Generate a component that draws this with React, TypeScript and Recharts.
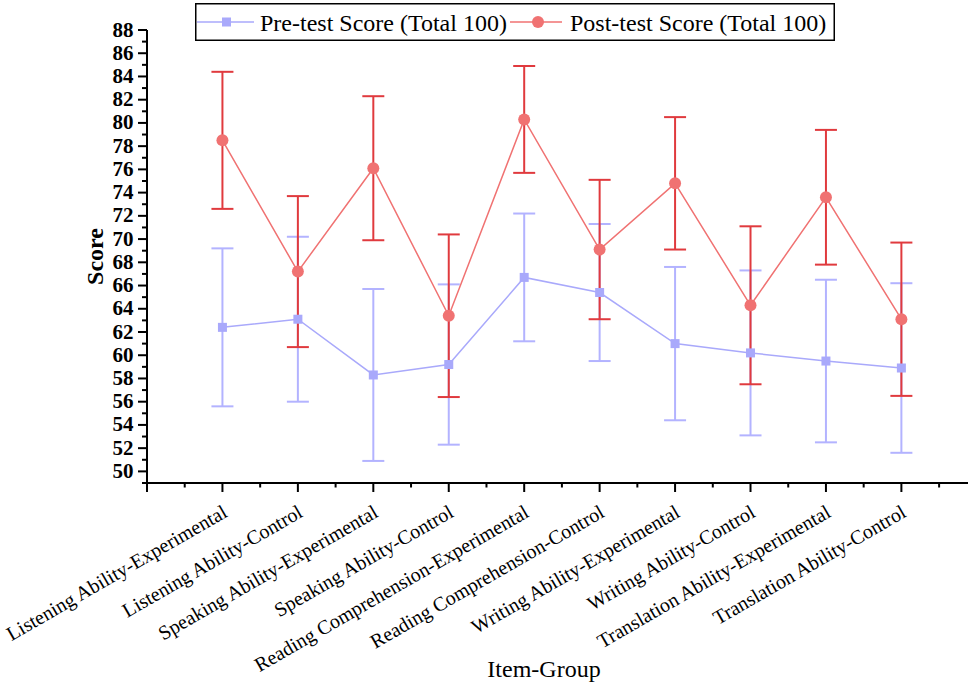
import React from 'react';
import { LineChart, Line, XAxis, YAxis, ErrorBar, Legend } from 'recharts';

const categories = [
  'Listening Ability-Experimental',
  'Listening Ability-Control',
  'Speaking Ability-Experimental',
  'Speaking Ability-Control',
  'Reading Comprehension-Experimental',
  'Reading Comprehension-Control',
  'Writing Ability-Experimental',
  'Writing Ability-Control',
  'Translation Ability-Experimental',
  'Translation Ability-Control',
];
const categoryPositions = [1, 2, 3, 4, 5, 6, 7, 8, 9, 10];
const preScores = [62.4, 63.1, 58.3, 59.2, 66.7, 65.4, 61.0, 60.2, 59.5, 58.9];
const preErrors = [6.8, 7.1, 7.4, 6.9, 5.5, 5.9, 6.6, 7.1, 7.0, 7.3];
const postScores = [78.5, 67.2, 76.1, 63.4, 80.3, 69.1, 74.8, 64.3, 73.6, 63.1];
const postErrors = [5.9, 6.5, 6.2, 7.0, 4.6, 6.0, 5.7, 6.8, 5.8, 6.6];

const yMajorTicks = [50, 52, 54, 56, 58, 60, 62, 64, 66, 68, 70, 72, 74, 76, 78, 80, 82, 84, 86, 88];
const yMinorTicks = [49, 51, 53, 55, 57, 59, 61, 63, 65, 67, 69, 71, 73, 75, 77, 79, 81, 83, 85, 87];
const xMajorTicks = [0, 1, 2, 3, 4, 5, 6, 7, 8, 9, 10];
const xMinorTicks = [0.5, 1.5, 2.5, 3.5, 4.5, 5.5, 6.5, 7.5, 8.5, 9.5, 10.5];

const preName = 'Pre-test Score (Total 100)';
const postName = 'Post-test Score (Total 100)';

const data = categories.map((name, i) => ({
  x: categoryPositions[i],
  name,
  pre: preScores[i],
  preErr: preErrors[i],
  post: postScores[i],
  postErr: postErrors[i],
}));

const yTicks = [...yMinorTicks, ...yMajorTicks].sort((a, b) => a - b);
const xTicks = [...xMajorTicks, ...xMinorTicks].sort((a, b) => a - b);

const SERIF = '"Liberation Serif", "Times New Roman", serif';
const PRE_COLOR = '#a9a9fb';
const PRE_ERR = '#b3b3ff';
const POST_COLOR = '#f07272';
const POST_ERR = '#e03a3e';

const XTick = (props: any) => {
  const { x, y, payload } = props;
  const v = payload.value;
  const major = xMajorTicks.includes(v);
  const idx = categoryPositions.indexOf(v);
  const tx = x + 6;
  const ty = y + 33;
  return (
    <g>
      <line x1={x} x2={x} y1={y} y2={y + (major ? 9 : 4.5)} stroke="#000" strokeWidth={2} />
      {idx >= 0 && (
        <text
          x={tx}
          y={ty}
          textAnchor="end"
          transform={`rotate(-30, ${tx}, ${ty})`}
          fontFamily={SERIF}
          fontSize={20}
          fill="#000"
        >
          {categories[idx]}
        </text>
      )}
    </g>
  );
};

const YTick = (props: any) => {
  const { x, y, payload } = props;
  const v = payload.value;
  const major = yMajorTicks.includes(v);
  return (
    <g>
      <line x1={x} x2={x - (major ? 9 : 5)} y1={y} y2={y} stroke="#000" strokeWidth={2} />
      {major && (
        <text x={x - 13.5} y={y + 6.5} textAnchor="end" fontFamily={SERIF} fontSize={21} fontWeight="bold" fill="#000">
          {v}
        </text>
      )}
    </g>
  );
};

const SquareDot = (props: any) => {
  const { cx, cy } = props;
  if (cx == null || cy == null) return null;
  return <rect x={cx - 4.5} y={cy - 4.5} width={9} height={9} fill={PRE_COLOR} />;
};

const CircleDot = (props: any) => {
  const { cx, cy } = props;
  if (cx == null || cy == null) return null;
  return <circle cx={cx} cy={cy} r={6} fill={POST_COLOR} />;
};

const LegendBox = () => (
  <svg width={640} height={38} style={{ display: 'block' }}>
    <rect x={0.75} y={0.75} width={638.5} height={36.5} fill="#fff" stroke="#000" strokeWidth={1.5} />
    <line x1={2} x2={59} y1={19} y2={19} stroke={PRE_COLOR} strokeWidth={1.5} />
    <rect x={27} y={14.5} width={9} height={9} fill={PRE_COLOR} />
    <text x={65} y={28} fontFamily={SERIF} fontSize={24} fill="#000">{preName}</text>
    <line x1={315} x2={367} y1={19} y2={19} stroke={POST_COLOR} strokeWidth={1.5} />
    <circle cx={343} cy={19} r={6} fill={POST_COLOR} />
    <text x={375} y={28} fontFamily={SERIF} fontSize={24} fill="#000">{postName}</text>
  </svg>
);

const YLabel = (props: any) => {
  const vb = props.viewBox;
  const cy = vb.y + vb.height / 2;
  const tx = 103;
  return (
    <text
      x={tx}
      y={cy}
      textAnchor="middle"
      transform={`rotate(-90, ${tx}, ${cy})`}
      fontFamily={SERIF}
      fontSize={24}
      fontWeight="bold"
      fill="#000"
    >
      Score
    </text>
  );
};

const XLabel = () => (
  <text x={544} y={677} textAnchor="middle" fontFamily={SERIF} fontSize={24} fill="#000">
    Item-Group
  </text>
);

export default function App() {
  return (
    <div style={{ position: 'absolute', left: 0, top: 0, width: 968, height: 687, background: '#fff' }}>
      <LineChart width={968} height={687} data={data} margin={{ top: 30, right: 0, bottom: 0, left: 0 }}>
        <XAxis
          type="number"
          dataKey="x"
          domain={[0, 10.883]}
          allowDataOverflow
          ticks={xTicks}
          interval={0}
          tickSize={0}
          tickMargin={0}
          tickLine={false}
          tick={<XTick />}
          height={204}
          axisLine={{ stroke: '#000', strokeWidth: 2 }}
          label={<XLabel />}
        />
        <YAxis
          type="number"
          domain={[49, 88]}
          allowDataOverflow
          ticks={yTicks}
          interval={0}
          tickSize={0}
          tickMargin={0}
          tickLine={false}
          tick={<YTick />}
          width={147}
          axisLine={{ stroke: '#000', strokeWidth: 2 }}
          label={<YLabel />}
        />
        <Legend
          layout="horizontal"
          verticalAlign="middle"
          align="center"
          wrapperStyle={{ position: 'absolute', left: 195, top: 3, width: 640, height: 38 }}
          content={() => <LegendBox />}
        />
        <Line
          type="linear"
          dataKey="pre"
          name={preName}
          stroke={PRE_COLOR}
          strokeWidth={1.5}
          dot={<SquareDot />}
          activeDot={false}
          isAnimationActive={false}
        >
          <ErrorBar dataKey="preErr" direction="y" width={11} strokeWidth={2} stroke={PRE_ERR} isAnimationActive={false} />
        </Line>
        <Line
          type="linear"
          dataKey="post"
          name={postName}
          stroke={POST_COLOR}
          strokeWidth={1.5}
          dot={<CircleDot />}
          activeDot={false}
          isAnimationActive={false}
        >
          <ErrorBar dataKey="postErr" direction="y" width={11} strokeWidth={2} stroke={POST_ERR} isAnimationActive={false} />
        </Line>
      </LineChart>
    </div>
  );
}
